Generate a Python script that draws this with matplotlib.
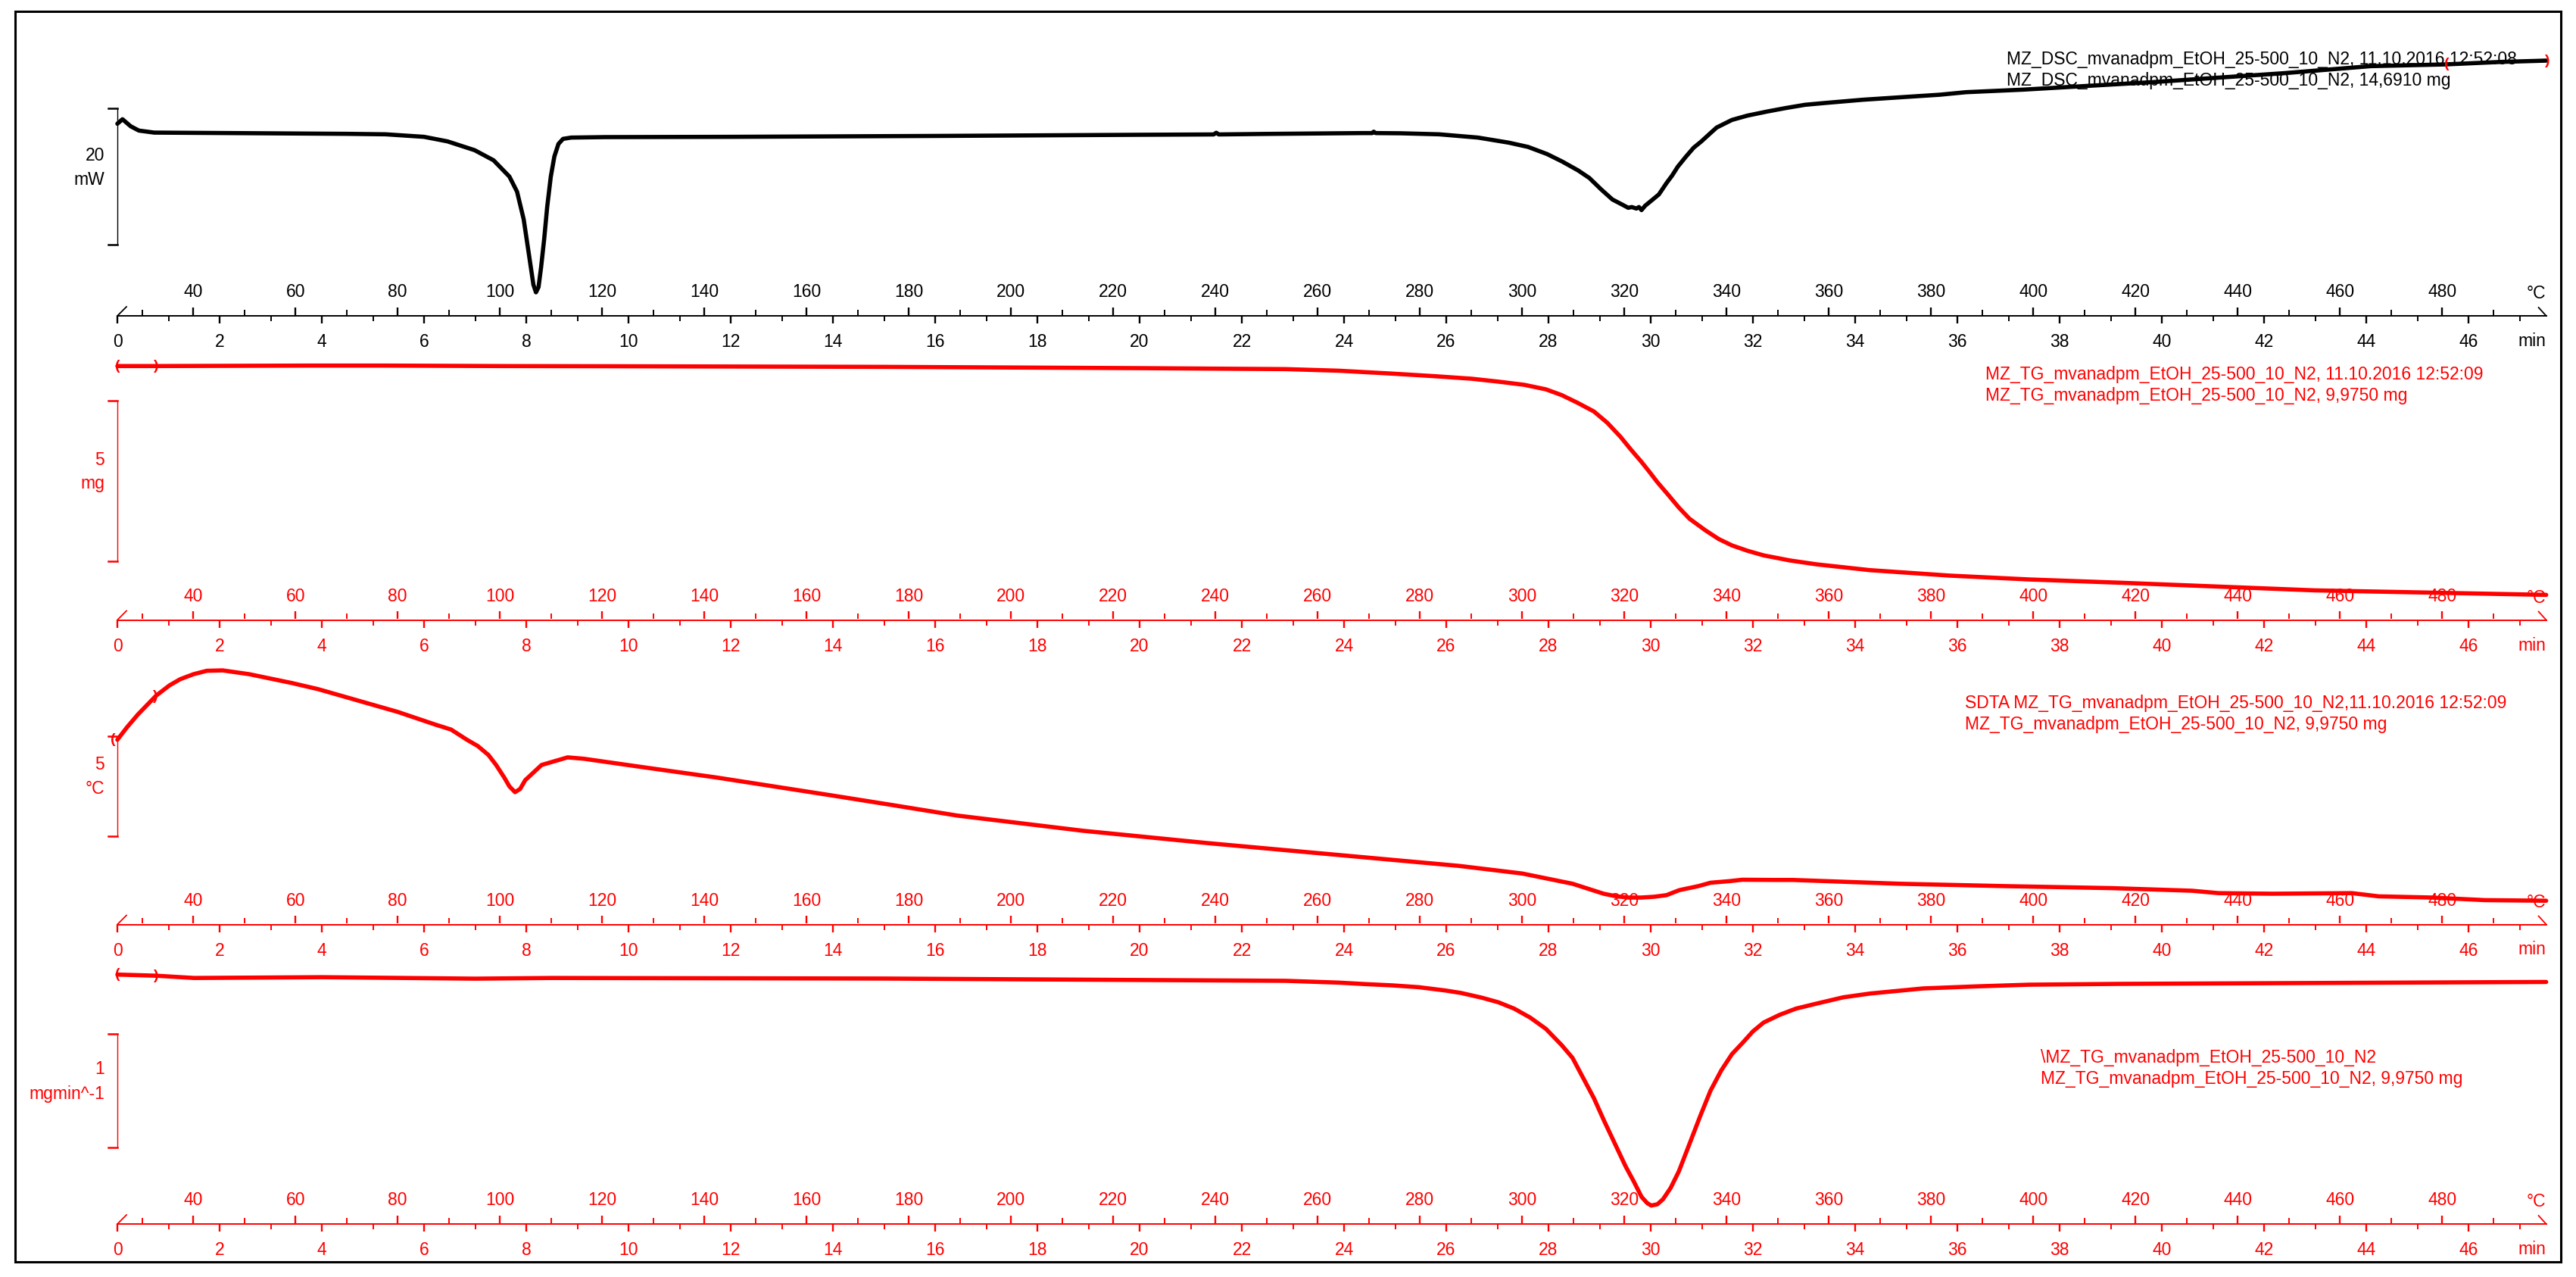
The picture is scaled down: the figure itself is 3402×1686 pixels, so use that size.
import numpy as np
import matplotlib
matplotlib.use("Agg")
import matplotlib.pyplot as plt
from matplotlib.patches import Rectangle

# ---- data (time in min) ----
dsc_t = [0.0, 0.10, 0.26, 0.42, 0.72, 2.23, 4.49, 5.25, 6.00, 6.46, 6.99, 7.36, 7.67, 7.82,
         7.95, 8.06, 8.14, 8.19, 8.24, 8.29, 8.35, 8.41, 8.48, 8.55, 8.63, 8.72, 8.88, 9.54,
         12.0, 16.0, 20.0, 21.45, 21.5, 21.55, 22.5, 24.36, 24.55, 24.58, 24.62, 25.11, 25.86,
         26.62, 27.22, 27.60, 27.97, 28.27, 28.58, 28.80, 29.03, 29.25, 29.44, 29.56, 29.63,
         29.72, 29.77, 29.82, 29.89, 30.01, 30.16, 30.31, 30.42, 30.53, 30.69, 30.84, 30.99,
         31.18, 31.29, 31.59, 31.89, 32.27, 32.64, 33.02, 33.40, 34.15, 34.90, 35.66, 36.17,
         37.28, 39.83, 42.38, 44.09, 45.53, 46.64, 47.52]
dsc_mw = [1.37, 2.03, 1.0, 0.37, 0.07, 0.0, -0.11, -0.18, -0.55, -1.22, -2.51, -3.99, -6.38, -8.6,
          -12.66, -18.2, -22.25, -23.36, -22.6, -19.7, -15.6, -10.8, -6.4, -3.43, -1.59, -0.85, -0.66, -0.59,
          -0.55, -0.42, -0.25, -0.2, 0.05, -0.2, -0.12, 0.0, 0.0, 0.2, 0.0, -0.03, -0.18,
          -0.66, -1.40, -2.03, -3.07, -4.18, -5.48, -6.59, -8.26, -9.74, -10.48, -10.96, -10.85,
          -11.07, -10.85, -11.30, -10.67, -9.93, -9.0, -7.33, -6.22, -4.93, -3.45, -2.15, -1.23,
          0.07, 0.81, 1.93, 2.56, 3.15, 3.67, 4.15, 4.41, 4.89, 5.26, 5.63, 6.0,
          6.37, 7.48, 8.78, 9.82, 10.07, 10.44, 10.63]

tg_t = [0.0, 0.76, 3.74, 5.25, 7.5, 9.54, 15.0, 20.0, 22.86, 23.90, 24.94, 25.77, 26.50, 27.02,
        27.53, 27.95, 28.26, 28.57, 28.89, 29.15, 29.41, 29.61, 29.82, 29.98, 30.13, 30.34,
        30.55, 30.76, 31.07, 31.33, 31.59, 31.90, 32.21, 32.73, 33.25, 34.29, 35.85, 37.41,
        39.16, 43.0, 47.52]
tg_mg = [9.975, 9.975, 9.99, 9.99, 9.975, 9.97, 9.95, 9.91, 9.88, 9.83, 9.74, 9.66, 9.58, 9.49,
         9.39, 9.25, 9.07, 8.83, 8.56, 8.21, 7.77, 7.38, 6.99, 6.67, 6.36, 5.97,
         5.57, 5.22, 4.86, 4.59, 4.39, 4.22, 4.08, 3.92, 3.80, 3.62, 3.45, 3.33,
         3.23, 2.99, 2.85]

sdta_t = [0.0, 0.19, 0.40, 0.76, 1.02, 1.23, 1.49, 1.75, 2.06, 2.58, 3.41, 3.93, 4.45, 4.97,
          5.49, 6.22, 6.53, 6.84, 7.05, 7.26, 7.41, 7.57, 7.67, 7.78, 7.88, 7.98, 8.30, 8.81,
          9.13, 10.17, 11.73, 13.97, 15.20, 16.43, 18.89, 21.34, 23.80, 26.26, 27.49, 28.47,
          29.08, 29.33, 29.57, 29.82, 30.07, 30.31, 30.56, 30.93, 31.17, 31.54, 31.79, 32.40,
          32.78, 34.86, 36.95, 39.03, 40.59, 41.11, 42.16, 43.72, 44.24, 45.28, 46.32, 47.52]
sdta_c = [0.0, 0.63, 1.26, 2.21, 2.72, 3.03, 3.28, 3.45, 3.47, 3.28, 2.84, 2.53, 2.15, 1.77,
          1.39, 0.76, 0.51, 0.0, -0.31, -0.76, -1.26, -1.89, -2.33, -2.62, -2.46, -2.02, -1.26, -0.88,
          -0.95, -1.33, -1.89, -2.78, -3.28, -3.79, -4.55, -5.17, -5.74, -6.31, -6.69, -7.20,
          -7.70, -7.83, -7.89, -7.89, -7.85, -7.77, -7.52, -7.32, -7.15, -7.07, -7.0, -7.01,
          -7.01, -7.20, -7.32, -7.42, -7.55, -7.67, -7.70, -7.67, -7.83, -7.89, -8.02, -8.05]

dtg_t = [0.0, 0.76, 1.5, 4.0, 7.0, 8.5, 15.0, 22.86, 23.90, 24.42, 24.94, 25.46, 25.98, 26.29,
         26.70, 27.02, 27.33, 27.64, 27.95, 28.26, 28.47, 28.68, 28.89, 29.09, 29.30, 29.51,
         29.67, 29.82, 29.93, 30.01, 30.13, 30.24, 30.39, 30.55, 30.76, 30.97, 31.17, 31.38,
         31.59, 31.80, 32.00, 32.21, 32.52, 32.84, 33.25, 33.77, 34.29, 35.33, 36.37, 37.41,
         39.16, 47.52]
dtg_v = [0.0, -0.01, -0.03, -0.023, -0.036, -0.03, -0.035, -0.055, -0.071, -0.084, -0.095, -0.111,
         -0.140, -0.162, -0.204, -0.244, -0.300, -0.378, -0.478, -0.622, -0.733, -0.911, -1.089,
         -1.289, -1.489, -1.689, -1.822, -1.956, -2.011, -2.033, -2.022, -1.978, -1.878, -1.733,
         -1.489, -1.244, -1.022, -0.844, -0.700, -0.600, -0.500, -0.422, -0.355, -0.300, -0.255,
         -0.200, -0.167, -0.122, -0.104, -0.089, -0.082, -0.065]

time_ticks = list(range(0, 47, 2))
temp_ticks = list(range(40, 481, 20))

dsc_text = ["MZ_DSC_mvanadpm_EtOH_25-500_10_N2, 11.10.2016 12:52:08",
            "MZ_DSC_mvanadpm_EtOH_25-500_10_N2, 14,6910 mg"]
tg_text = ["MZ_TG_mvanadpm_EtOH_25-500_10_N2, 11.10.2016 12:52:09",
           "MZ_TG_mvanadpm_EtOH_25-500_10_N2, 9,9750 mg"]
sdta_text = ["SDTA MZ_TG_mvanadpm_EtOH_25-500_10_N2,11.10.2016 12:52:09",
             "MZ_TG_mvanadpm_EtOH_25-500_10_N2, 9,9750 mg"]
dtg_text = ["\\MZ_TG_mvanadpm_EtOH_25-500_10_N2",
            "MZ_TG_mvanadpm_EtOH_25-500_10_N2, 9,9750 mg"]

# ---- layout (pixels of the 3402x1686 picture) ----
W, H = 3402, 1686
X0, PX_MIN, T_END = 155, 67.5, 47.52
RED = "#ff0000"

plt.rcParams["font.family"] = ["Liberation Sans", "DejaVu Sans"]
plt.rcParams["font.size"] = 16.5


def box(y_top, y_bot):
    return [X0 / W, 1 - y_bot / H, T_END * PX_MIN / W, (y_bot - y_top) / H]


def t_to_T(t):
    return 25.15 + 10 * np.asarray(t)


def T_to_t(T):
    return (np.asarray(T) - 25.15) / 10


panels = [
    dict(t=dsc_t, y=dsc_mw, c="black", top=20, axis=417, ref_px=175.7, ref_val=0.0, ppu=9.0,
         bar_top=143, scale=20, lab=("20", "mW"), text=dsc_text, tx=2650, ty=78,
         br=[(45.57, "("), (47.55, ")")]),
    dict(t=tg_t, y=tg_mg, c=RED, top=440, axis=818.5, ref_px=483.3, ref_val=9.975, ppu=42.4,
         bar_top=529, scale=5, lab=("5", "mg"), text=tg_text, tx=2622, ty=494,
         br=[(0.0, "("), (0.76, ")")]),
    dict(t=sdta_t, y=sdta_c, c=RED, top=840, axis=1220.5, ref_px=976.7, ref_val=0.0, ppu=26.4,
         bar_top=972, scale=5, lab=("5", "°C"), text=sdta_text, tx=2595, ty=928,
         br=[(-0.08, "("), (0.74, ")")]),
    dict(t=dtg_t, y=dtg_v, c=RED, top=1240, axis=1616, ref_px=1286.7, ref_val=0.0, ppu=150.0,
         bar_top=1365, scale=1, lab=("1", "mgmin^-1"), text=dtg_text, tx=2695, ty=1396,
         br=[(0.0, "("), (0.76, ")")]),
]

fig = plt.figure(figsize=(W / 100, H / 100), dpi=100)

for p in panels:
    c = p["c"]
    ax = fig.add_axes(box(p["top"], p["axis"]))
    ax.set_xlim(0, T_END)
    ax.set_ylim(p["ref_val"] - (p["axis"] - p["ref_px"]) / p["ppu"],
                p["ref_val"] + (p["ref_px"] - p["top"]) / p["ppu"])
    ax.axis("off")
    ax.plot(p["t"], p["y"], color=c, lw=4.0, solid_joinstyle="round", solid_capstyle="round",
            clip_on=False)

    # evaluation brackets
    for bt, ch in p["br"]:
        ax.text(bt, np.interp(bt, p["t"], p["y"]), ch, color=RED, fontsize=14,
                fontweight="bold", ha="center", va="center")

    # scale bar
    hi = p["ref_val"] + (p["ref_px"] - p["bar_top"]) / p["ppu"]
    lo = hi - p["scale"]
    cap = 12 / PX_MIN
    ax.plot([0, 0], [lo, hi], color=c, lw=1.0, clip_on=False)
    ax.plot([-cap, 0], [hi, hi], color=c, lw=1.8, clip_on=False)
    ax.plot([-cap, 0], [lo, lo], color=c, lw=1.8, clip_on=False)
    mid = (lo + hi) / 2
    ax.annotate(p["lab"][0], xy=(0, mid), xytext=(-17, 28), textcoords="offset pixels",
                ha="right", va="center", color=c)
    ax.annotate(p["lab"][1], xy=(0, mid), xytext=(-17, -4), textcoords="offset pixels",
                ha="right", va="center", color=c)

    # time / temperature axis
    axx = fig.add_axes(box(p["axis"] - 1, p["axis"]))
    axx.set_xlim(0, T_END)
    axx.set_ylim(0, 1)
    axx.set_facecolor("none")
    for side in ["top", "left", "right"]:
        axx.spines[side].set_visible(False)
    axx.spines["bottom"].set_color(c)
    axx.spines["bottom"].set_linewidth(1.4)
    axx.set_yticks([])
    axx.set_xticks(time_ticks)
    axx.set_xticklabels([str(v) for v in time_ticks])
    axx.set_xticks(np.arange(1, 48, 2), minor=True)
    axx.tick_params(axis="x", which="major", length=7.4, width=1.7, pad=9.5, colors=c)
    axx.tick_params(axis="x", which="minor", length=5.2, width=1.4, colors=c)

    sec = axx.secondary_xaxis("top", functions=(t_to_T, T_to_t))
    sec.set_xticks(temp_ticks)
    sec.set_xticklabels([str(v) for v in temp_ticks])
    sec.set_xticks(np.arange(30, 491, 20), minor=True)
    sec.tick_params(axis="x", which="major", direction="out", length=7.4, width=1.7, pad=6, colors=c)
    sec.tick_params(axis="x", which="minor", direction="out", length=5.2, width=1.4, colors=c)
    for s in sec.spines.values():
        s.set_visible(False)

    trans = axx.get_xaxis_transform()
    axx.annotate("min", xy=(T_END, 0), xycoords=trans, xytext=(0, -40),
                 textcoords="offset pixels", ha="right", va="baseline", color=c)
    axx.annotate("°C", xy=(T_END, 0), xycoords=trans, xytext=(0, 23),
                 textcoords="offset pixels", ha="right", va="baseline", color=c)
    axx.plot([0, 12 / PX_MIN], [0, 12], color=c, lw=1.3, clip_on=False)
    axx.plot([T_END - 10 / PX_MIN, T_END], [11, 0], color=c, lw=1.3, clip_on=False)

# frame and curve descriptions
ov = fig.add_axes([0, 0, 1, 1], zorder=-1)
ov.set_xlim(0, W)
ov.set_ylim(H, 0)
ov.axis("off")
ov.add_patch(Rectangle((20, 15), 3362, 1651, fill=False, lw=2.2, ec="black"))
for p in panels:
    for i, line in enumerate(p["text"]):
        ov.text(p["tx"], p["ty"] + i * 28, line, color=p["c"], ha="left", va="center")

fig.savefig("out.png", dpi=100)
